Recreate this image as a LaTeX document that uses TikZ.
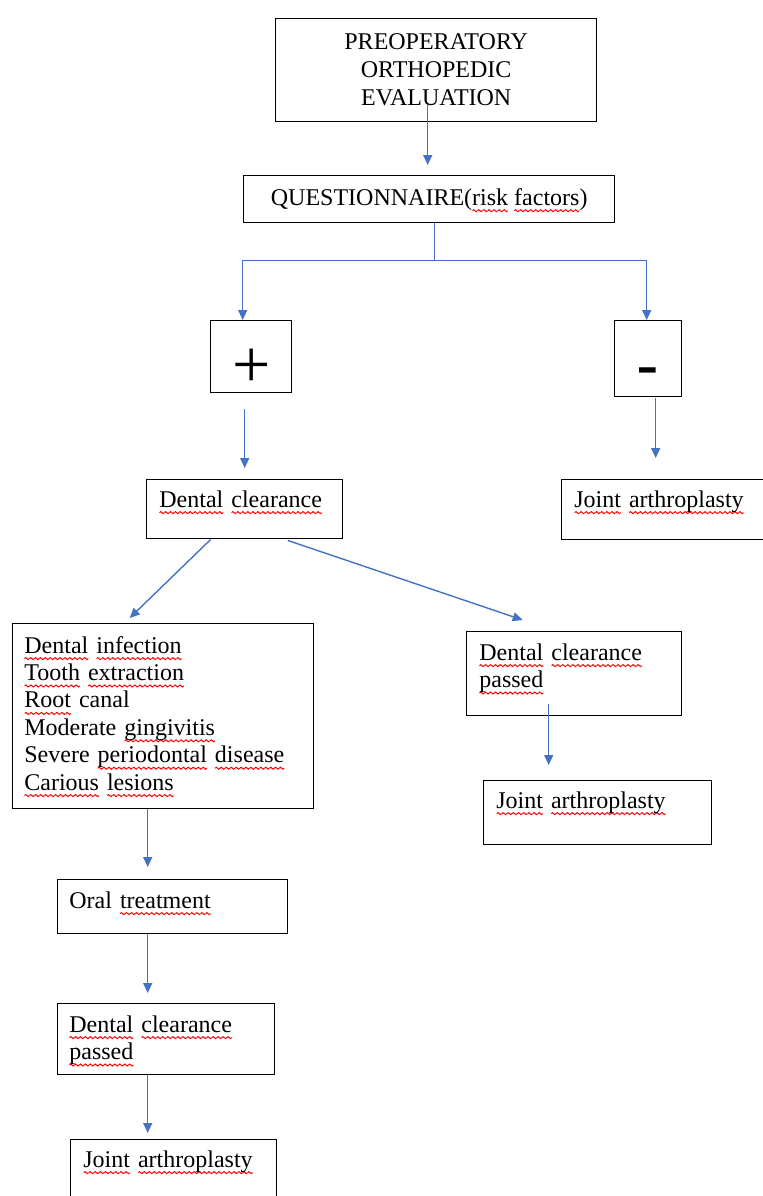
\documentclass[tikz,border=0pt]{standalone}
\usepackage{fontspec}
\setmainfont{Liberation Serif}
\newfontfamily\signfont{Liberation Sans}
\usetikzlibrary{arrows.meta}

\definecolor{arrowblue}{RGB}{68,114,196}

% red wavy mark of the spell checker
\newsavebox\wavebox
\newcommand\spellwave[1]{\leavevmode\sbox0{#1}\rlap{\raisebox{-2.8pt}[0pt][0pt]{\hbox to\wd0{\xleaders\copy\wavebox\hfill}}}\usebox0}

\tikzset{%
  stepbox/.style={
    rectangle,
    draw=black,
    line width=0.7pt,
    inner sep=0pt,
    anchor=north west
  },
  boxtext/.style={
    anchor=base west,
    inner sep=0pt,
    text width=6cm,
    align=left,
    font=\fontsize{12}{13.7}\selectfont
  },
  flow/.style={
    draw=arrowblue,
    line width=0.7pt,
    -{Triangle[length=5pt,width=4.5pt]}
  },
}

\begin{document}
\sbox\wavebox{\begin{pgfpicture}
  \pgfsetbaseline{0pt}
  \pgfpathrectanglecorners{\pgfpoint{0pt}{-0.5pt}}{\pgfpoint{2.4pt}{0.5pt}}
  \pgfusepath{use as bounding box}
  \pgfpathmoveto{\pgfpoint{0pt}{0pt}}
  \pgfpathsine{\pgfpoint{0.6pt}{0.5pt}}
  \pgfpathcosine{\pgfpoint{0.6pt}{-0.5pt}}
  \pgfpathsine{\pgfpoint{0.6pt}{-0.5pt}}
  \pgfpathcosine{\pgfpoint{0.6pt}{0.5pt}}
  \pgfsetlinewidth{0.5pt}
  \pgfsetstrokecolor{red}
  \pgfusepath{stroke}
\end{pgfpicture}}
\begin{tikzpicture}[x=0.5pt,y=-0.5pt]
\clip (0,0) rectangle (763,1196);
\node[stepbox, minimum width=160.5pt, minimum height=51.5pt, align=center, font=\fontsize{12}{14}\selectfont] (eval) at (275,18) {PREOPERATORY\\ORTHOPEDIC\\EVALUATION};
\node[stepbox, minimum width=185.5pt, minimum height=23.5pt, font=\fontsize{12}{14}\selectfont] (quest) at (243,175) {QUESTIONNAIRE(\spellwave{risk} \spellwave{factors})};
\node[stepbox, minimum width=40.5pt, minimum height=36pt, font=\fontsize{34}{34}\selectfont, text height=31.2pt, text depth=0pt] (plus) at (210,320) {+};
\node[stepbox, minimum width=33.5pt, minimum height=38pt, font=\signfont\fontsize{34}{34}\selectfont, text height=30pt, text depth=0pt] (minus) at (614,320) {-};

% boxes
\node[stepbox, minimum width=98pt, minimum height=29.5pt] (clear) at (146,479) {};
\node[stepbox, minimum width=104.5pt, minimum height=30pt] (jointr) at (561,479) {};
\node[stepbox, minimum width=150.5pt, minimum height=92.5pt] (infect) at (12,623) {};
\node[stepbox, minimum width=107.5pt, minimum height=42pt] (passr) at (466,631) {};
\node[stepbox, minimum width=114pt, minimum height=32pt] (jointm) at (483,780) {};
\node[stepbox, minimum width=115pt, minimum height=27pt] (oral) at (57,879) {};
\node[stepbox, minimum width=108.5pt, minimum height=35.5pt] (passl) at (57,1003) {};
\node[stepbox, minimum width=103pt, minimum height=38pt] (jointl) at (70,1139) {};

% texts
\node[boxtext] (clear-t) at ([shift={(13,28)}]clear.north west) {\spellwave{Dental} \spellwave{clearance}};
\node[boxtext] (jointr-t) at ([shift={(13,28)}]jointr.north west) {\spellwave{Joint} \spellwave{arthroplasty}};
\node[boxtext] (infect-t) at ([shift={(12,30)}]infect.north west) {\spellwave{Dental} \spellwave{infection}\\\spellwave{Tooth} \spellwave{extraction}\\\spellwave{Root} canal\\Moderate \spellwave{gingivitis}\\Severe \spellwave{periodontal} \spellwave{disease}\\\spellwave{Carious} \spellwave{lesions}};
\node[boxtext] (passr-t) at ([shift={(13,29)}]passr.north west) {\spellwave{Dental} \spellwave{clearance}\\\spellwave{passed}};
\node[boxtext] (jointm-t) at ([shift={(13,28)}]jointm.north west) {\spellwave{Joint} \spellwave{arthroplasty}};
\node[boxtext] (oral-t) at ([shift={(12,29)}]oral.north west) {Oral \spellwave{treatment}};
\node[boxtext] (passl-t) at ([shift={(12,29)}]passl.north west) {\spellwave{Dental} \spellwave{clearance}\\\spellwave{passed}};
\node[boxtext] (jointl-t) at ([shift={(13,28)}]jointl.north west) {\spellwave{Joint} \spellwave{arthroplasty}};

% arrows
\draw[flow] ([shift={(-8.5,-17)}]eval.south) -- ([shift={(-1.5,-10)}]quest.north);
\draw[flow] ([shift={(5.5,0)}]quest.south) -- ++(0,37) -| ([shift={(-8.5,0)}]plus.north);
\draw[flow] ([shift={(5.5,0)}]quest.south) -- ++(0,37) -| ([shift={(-1.5,0)}]minus.north);
\draw[flow] ([shift={(-6.5,16)}]plus.south) -- ([shift={(0,-11)}]clear.north);
\draw[flow] ([shift={(7.5,1)}]minus.south) -- ([shift={(-10.5,-21)}]jointr.north);
\draw[flow] ([shift={(-34,0)}]clear.south) -- ([shift={(-33.5,-5)}]infect.north);
\draw[flow] ([shift={(43,1)}]clear.south) -- ([shift={(-51.5,-11)}]passr.north);
\draw[flow] ([shift={(-25.5,-12)}]passr.south) -- ([shift={(-49,-15)}]jointm.north);
\draw[flow] ([shift={(-15.5,0)}]infect.south) -- ([shift={(-25,-12)}]oral.north);
\draw[flow] ([shift={(-25,0)}]oral.south) -- ([shift={(-18.5,-10)}]passl.north);
\draw[flow] ([shift={(-18.5,0)}]passl.south) -- ([shift={(-26,-6)}]jointl.north);
\end{tikzpicture}
\end{document}
